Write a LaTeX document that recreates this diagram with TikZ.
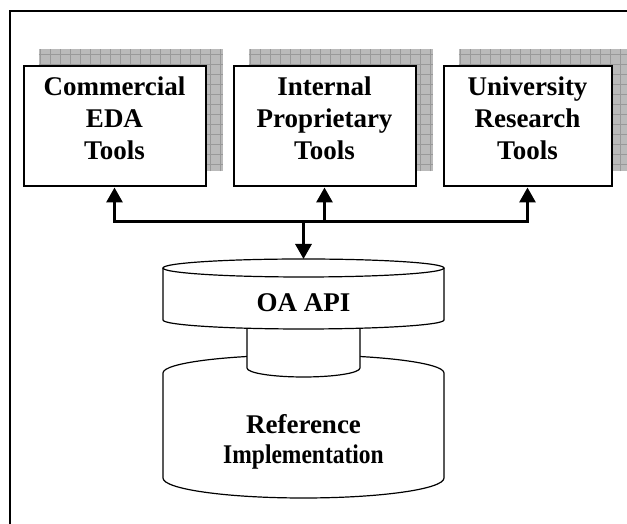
\documentclass[tikz,border=0pt]{standalone}
\usepackage{fontspec}
\setmainfont{Liberation Serif}
\usetikzlibrary{arrows.meta,backgrounds}
\tikzset{
	toolbox/.style={draw, line width=2pt, fill=white, minimum width=182pt, minimum height=120pt},
	toollabel/.style={align=center, inner sep=0pt, font=\fontsize{27}{32}\selectfont\bfseries},
	shadowfill/.style={fill=black!27},
	shadowgrid/.style={draw=black!40, line width=.5pt, step=10pt},
	busline/.style={line width=3pt, -{Triangle[width=16pt,length=15pt]}},
	canline/.style={draw, line width=1.2pt, fill=white}
}
\begin{document}
\begin{tikzpicture}[x=1pt,y=1pt]
\useasboundingbox (0,0) rectangle (627,524);
\draw[line width=2pt] (9.7,-5)--(9.7,512.7)--(640,512.7);

\node[toolbox] (eda) at (114.5,397.5){};
\node[toolbox] (prop) at (324.5,397.5){};
\node[toolbox, minimum width=168pt] (univ) at (527.5,397.5){};
\node[toollabel] (edatext) at ([yshift=8pt]eda.center){Commercial\\EDA\\Tools};
\node[toollabel] (proptext) at ([yshift=8pt]prop.center){Internal\\Proprietary\\Tools};
\node[toollabel] (univtext) at ([yshift=8pt]univ.center){University\\Research\\Tools};

\begin{scope}[on background layer]
	\foreach \b in {eda,prop,univ}{
		\fill[shadowfill] ([shift={(16,16)}]\b.south west) rectangle ([shift={(16,16)}]\b.north east);
		\draw[shadowgrid] ([shift={(16,16)}]\b.south west) grid ([shift={(16,16)}]\b.north east);
	}
\end{scope}

\begin{scope}
	\filldraw[canline] (163,151) arc[start angle=180, end angle=0, x radius=140.5, y radius=18]
		-- (444,46) arc[start angle=0, end angle=-180, x radius=140.5, y radius=20] -- cycle;
	\filldraw[canline] (247,204) -- (247,156) arc[start angle=180, end angle=360, x radius=56.5, y radius=9] -- (360,204) -- cycle;
	\filldraw[canline] (163,256) -- (163,204) arc[start angle=180, end angle=360, x radius=140.5, y radius=9] -- (444,256);
	\filldraw[canline] (303.5,256) ellipse[x radius=140.5, y radius=9];
	\coordinate (apitop) at (303.5,265);
	\node[toollabel] (api) at (303.5,221){OA API};
	\node[toollabel, font=\fontsize{27}{30}\selectfont\bfseries] (impl) at (303.5,82){Reference\\\scalebox{.87}[1]{Implementation}};
\end{scope}

\coordinate (hub) at (303.5,302);
\draw[busline] (hub) -| (eda.south);
\draw[busline] (hub) -| (prop.south);
\draw[busline] (hub) -| (univ.south);
\draw[busline] (hub) -- (apitop);
\end{tikzpicture}
\end{document}
